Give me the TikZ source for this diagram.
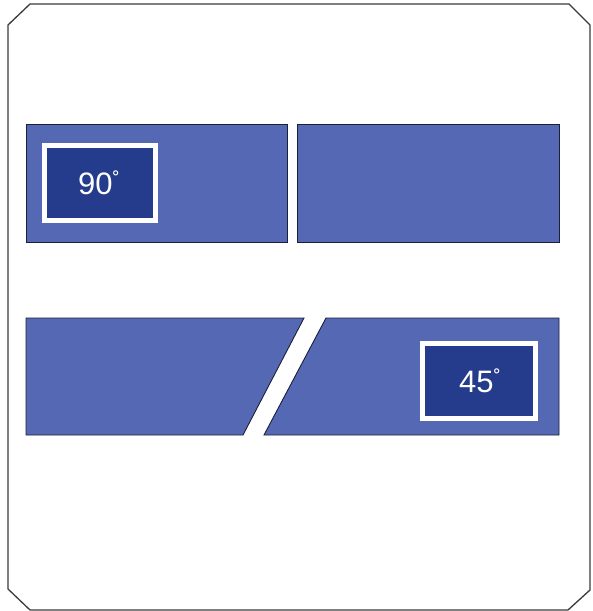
\documentclass[tikz,border=0pt]{standalone}
\usepackage{fontspec}
\setmainfont{Liberation Sans}
\definecolor{panelblue}{HTML}{5468B4}
\definecolor{darkblue}{HTML}{253C8C}
\definecolor{edgenavy}{HTML}{1C1F3A}
\definecolor{framegray}{HTML}{3A3A3A}
\newcommand{\degring}{\raisebox{0.35ex}{\fontsize{22}{22}\selectfont ˚}}
\tikzset{
  panel/.style={fill=panelblue, draw=edgenavy, line width=0.9pt},
  anglebox/.style={fill=darkblue, draw=white, line width=5pt, text=white,
    font=\fontsize{31}{34}\selectfont, inner sep=0pt},
  frame/.style={draw=framegray, line width=1.3pt, line join=miter}
}
\begin{document}
\begin{tikzpicture}[x=1pt,y=-1pt]
\useasboundingbox (0,0) rectangle (593,611);
% outer frame
\draw[frame] (8,25) -- (30,4) -- (569,4) -- (590,25) -- (590,590) -- (568,610) -- (30,610) -- (8,589) -- cycle;
% top panels
\node[panel, minimum width=261pt, minimum height=118pt, inner sep=0pt, anchor=north west] (tl) at (26,124) {};
\node[panel, minimum width=262pt, minimum height=118pt, inner sep=0pt, anchor=north west] (tr) at (297,124) {};
% bottom panels (cut at an angle)
\draw[panel] (26,318) -- (304,318) -- (243,435) -- (26,435) -- cycle;
\draw[panel] (326,318) -- (559,318) -- (559,435) -- (264,435) -- cycle;
% angle labels
\node[anglebox, minimum width=111pt, minimum height=75pt] (a90) at (100,183) {};
\node[text=white, font=\fontsize{31}{34}\selectfont, inner sep=0pt] (t90) at (99,183) {90\degring};
\node[anglebox, minimum width=113pt, minimum height=75pt] (a45) at (479,381) {};
\node[text=white, font=\fontsize{31}{34}\selectfont, inner sep=0pt] (t45) at (480,381) {45\degring};
\end{tikzpicture}
\end{document}
